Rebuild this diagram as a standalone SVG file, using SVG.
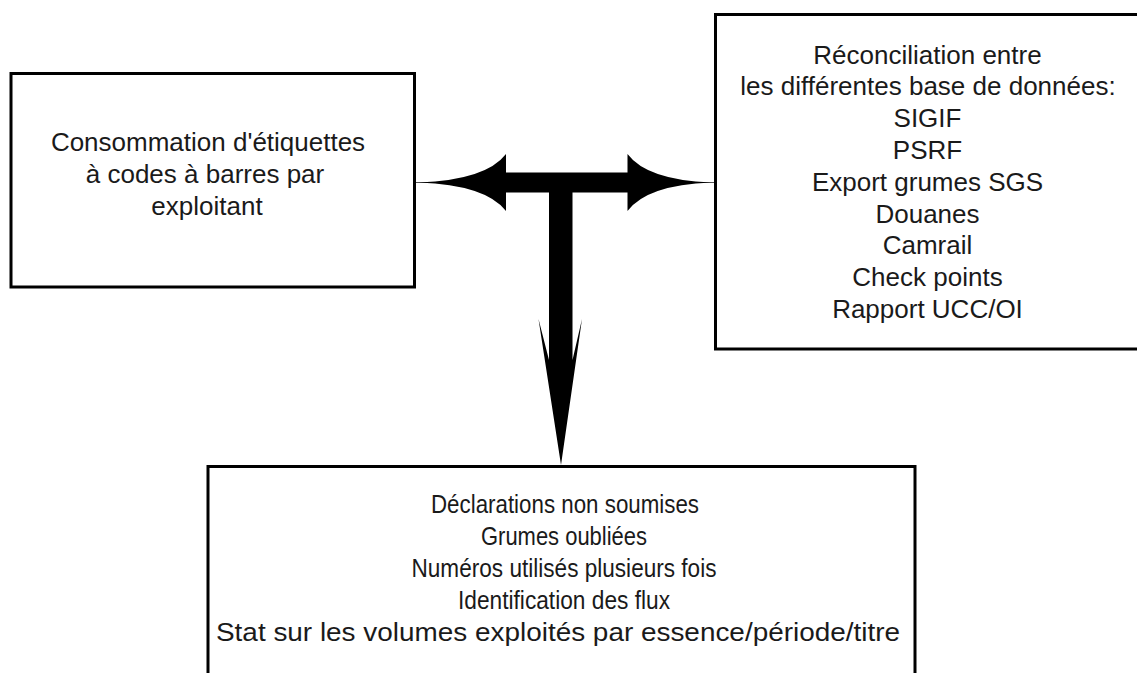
<svg xmlns="http://www.w3.org/2000/svg" width="1137" height="673" viewBox="0 0 1137 673">
  <style>
    .box { fill: #ffffff; stroke: #000000; stroke-width: 3; }
    .lbl { font-family: "Liberation Sans", Arial, Helvetica, sans-serif; font-size: 26px; fill: #1a1a1a; text-anchor: middle; }
    .thin { stroke: #555555; stroke-width: 1; fill: none; }
    .arrow { fill: #000000; stroke: none; }
  </style>
  <rect width="1137" height="673" fill="#ffffff"/>

  <g id="connectors">
    <line class="thin" x1="414" y1="182.5" x2="715" y2="182.5"/>
    <path class="arrow" d="M 419,182.5 Q 486,180 506,154 L 506,172.5 L 627.5,172.5 L 627.5,154 Q 647,180 711,182.5 Q 647,185 627.5,211 L 627.5,192.5 L 572.5,192.5 L 572.5,360 L 582,319 L 561,465 L 538.5,319 L 549,360 L 549,192.5 L 506,192.5 L 506,211 Q 486,185 419,182.5 Z"/>
  </g>

  <g id="node-consommation">
    <rect class="box" x="11" y="73.5" width="403.5" height="213.5"/>
    <text class="lbl" x="208" y="151">Consommation d'étiquettes</text>
    <text class="lbl" x="205" y="183">à codes à barres par</text>
    <text class="lbl" x="207" y="215">exploitant</text>
  </g>

  <g id="node-reconciliation">
    <rect class="box" x="715.5" y="14.5" width="440" height="334.5"/>
    <text class="lbl" x="927.5" y="63.5">Réconciliation entre</text>
    <text class="lbl" x="928" y="95.3">les différentes base de données:</text>
    <text class="lbl" x="927.5" y="127.1">SIGIF</text>
    <text class="lbl" x="927.5" y="158.9">PSRF</text>
    <text class="lbl" x="927.5" y="190.7">Export grumes SGS</text>
    <text class="lbl" x="927.5" y="222.5">Douanes</text>
    <text class="lbl" x="927.5" y="254.3">Camrail</text>
    <text class="lbl" x="927.5" y="286.1">Check points</text>
    <text class="lbl" x="927.5" y="317.9">Rapport UCC/OI</text>
  </g>

  <g id="node-resultats">
    <rect class="box" x="208" y="466.5" width="707" height="230"/>
    <text class="lbl" x="565" y="513" textLength="268" lengthAdjust="spacingAndGlyphs">Déclarations non soumises</text>
    <text class="lbl" x="564" y="545" textLength="166" lengthAdjust="spacingAndGlyphs">Grumes oubliées</text>
    <text class="lbl" x="564" y="577" textLength="305" lengthAdjust="spacingAndGlyphs">Numéros utilisés plusieurs fois</text>
    <text class="lbl" x="564" y="609" textLength="212" lengthAdjust="spacingAndGlyphs">Identification des flux</text>
    <text class="lbl" x="558" y="641" textLength="684" lengthAdjust="spacingAndGlyphs">Stat sur les volumes exploités par essence/période/titre</text>
  </g>
</svg>
